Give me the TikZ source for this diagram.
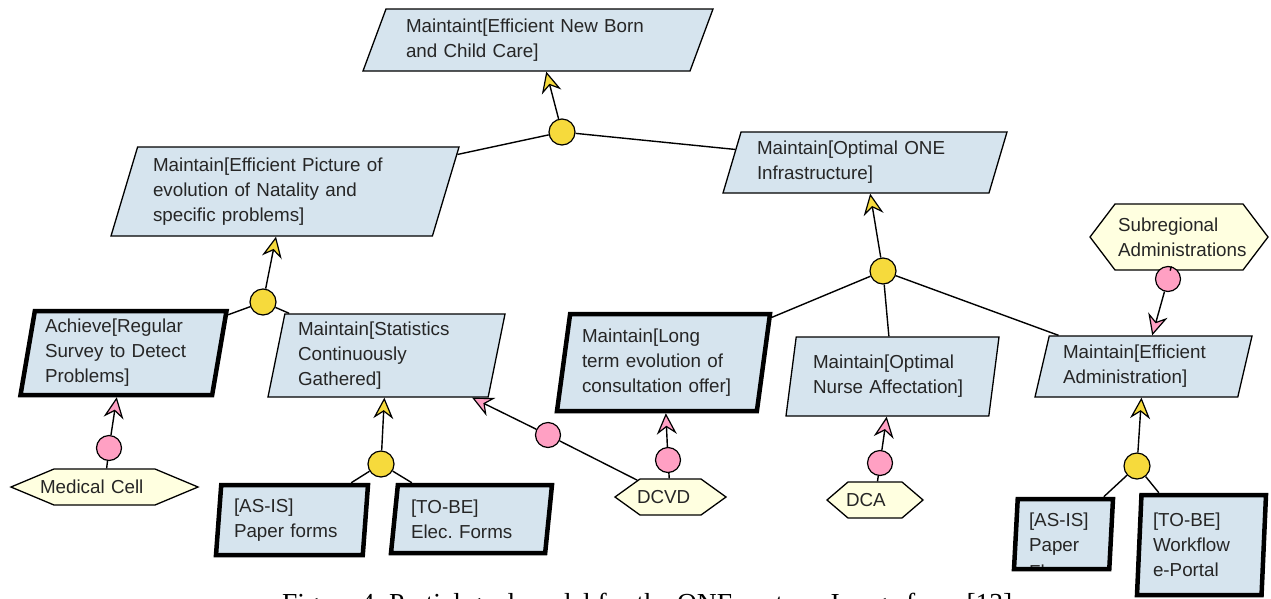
\documentclass[tikz,border=0pt]{standalone}
\usepackage{fontspec}
\newfontfamily\diafont{Liberation Sans}
\newfontfamily\capfont{Liberation Serif}
\usetikzlibrary{shapes.geometric,shapes.symbols,arrows.meta}
\definecolor{goalfill}{RGB}{214,228,238}
\definecolor{agentfill}{RGB}{255,255,224}
\definecolor{andyellow}{RGB}{246,218,60}
\definecolor{asspink}{RGB}{255,160,195}
\definecolor{txt}{RGB}{38,38,38}
\newcommand\gfont{\diafont\fontsize{18.8}{25}\selectfont}
\frenchspacing
\begin{document}
\begin{tikzpicture}[x=1pt,y=-1pt,
  goal/.style={shape=trapezium, trapezium stretches body, draw=black, line width=1.3pt,
    fill=goalfill, inner sep=0pt, align=left, font=\gfont, text=txt},
  heavy/.style={line width=4.5pt},
  agent/.style={shape=signal, signal to=west and east, draw=black, line width=1.3pt,
    fill=agentfill, inner sep=0pt, align=left, font=\gfont, text=txt},
  andc/.style={circle, draw=black, line width=1.2pt, fill=andyellow, minimum size=26pt, inner sep=0pt},
  assc/.style={circle, draw=black, line width=1.2pt, fill=asspink, minimum size=25pt, inner sep=0pt},
  link/.style={draw=black, line width=1.4pt},
  yref/.style={link, -{Stealth[length=21pt, width=20pt, inset=7pt, fill=andyellow, line width=1.2pt]}},
  pref/.style={link, -{Stealth[length=21pt, width=20pt, inset=7pt, fill=asspink, line width=1.2pt]}}]
\useasboundingbox (0,0) rectangle (1271,598);
\fill[white] (0,0) rectangle (1271,598);

% goals
\node[goal, trapezium left angle=61.6, trapezium right angle=118.4, minimum width=350pt, minimum height=62pt, text width=264pt] (g0) at (538,40) {Maintaint[Efficient New Born\\and Child Care]};
\node[goal, trapezium left angle=68.5, trapezium right angle=111.5, minimum width=348pt, minimum height=89pt, text width=264pt] (g1) at (285,191.5) {Maintain[Efficient Picture of\\evolution of Natality and\\specific problems]};
\node[goal, heavy, trapezium left angle=78, trapezium right angle=102, minimum width=206pt, minimum height=84pt, text width=157pt] (g2) at (123.5,353) {Achieve[Regular\\Survey to Detect\\Problems]};
\node[goal, trapezium left angle=76, trapezium right angle=104, minimum width=237pt, minimum height=83pt, text width=177pt] (g3) at (386.5,355.5) {Maintain[Statistics\\Continuously\\Gathered]};
\node[goal, heavy, trapezium left angle=83, trapezium right angle=97, minimum width=152pt, minimum height=70pt, text width=116pt] (g4) at (292,520) {[AS-IS]\\Paper forms};
\node[goal, heavy, trapezium left angle=80, trapezium right angle=100, minimum width=161pt, minimum height=68pt, text width=121pt] (g5) at (471.5,519) {[TO-BE]\\Elec. Forms};
\node[goal, heavy, trapezium left angle=79, trapezium right angle=101, minimum width=213pt, minimum height=97pt, text width=163pt] (g6) at (663.5,362.5) {Maintain[Long\\term evolution of\\consultation offer]};
\node[goal, trapezium left angle=76.5, trapezium right angle=103.5, minimum width=213pt, minimum height=79pt, text width=159pt] (g7) at (892.5,376.5) {Maintain[Optimal\\Nurse Affectation]};
\node[goal, trapezium left angle=67, trapezium right angle=113, minimum width=284pt, minimum height=61pt, text width=216pt] (g8) at (865,162.5) {Maintain[Optimal ONE\\Infrastructure]};
\node[goal, trapezium left angle=71.5, trapezium right angle=108.5, minimum width=217pt, minimum height=61pt, text width=161pt] (g9) at (1143.5,366.5) {Maintain[Efficient\\Administration]};
\node[goal, heavy, trapezium left angle=85, trapezium right angle=95, minimum width=99pt, minimum height=70pt, text width=69pt] (g10) at (1063.5,534) {[AS-IS]\\Paper};
\begin{scope}
  \clip (1010,540) rectangle (1120,566.5);
  \node[font=\gfont, text=txt, anchor=base west, inner sep=0pt] (g10x) at (1029,578.5) {Flows};
\end{scope}
\node[goal, heavy, trapezium left angle=86, trapezium right angle=94, minimum width=129pt, minimum height=100pt, text width=97pt] (g11) at (1201.5,545) {[TO-BE]\\Workflow\\e-Portal};

% agents
\node[agent, signal pointer angle=45.4, minimum height=36pt, text width=101pt] (h1) at (104.5,487) {\hspace*{-14pt}Medical Cell};
\node[agent, signal pointer angle=71.5, minimum height=36pt, text width=61pt] (h2) at (670.5,497) {\hspace*{-3pt}DCVD};
\node[agent, signal pointer angle=81.2, minimum height=36pt, text width=54pt] (h3) at (875,500) {\hspace*{-2pt}DCA};
\node[agent, signal pointer angle=105.7, minimum height=66pt, text width=128pt] (h4) at (1179,237) {\hspace*{3pt}\mbox{Subregional}\\\hspace*{3pt}\mbox{Administrations}};

% refinement and assignment circles
\node[andc] (a0) at (562,132) {};
\node[andc] (a1) at (263,302) {};
\node[andc] (a2) at (381,464) {};
\node[andc] (a3) at (883,271) {};
\node[andc] (a4) at (1137,466) {};
\node[assc] (p1) at (109,448) {};
\node[assc] (p2) at (548,435) {};
\node[assc] (p3) at (668,460) {};
\node[assc] (p4) at (880,463) {};
\node[assc] (p5) at (1168,279) {};

% connectors
\draw[yref] (a0) -- (g0);
\draw[link] (a0) -- (g1);
\draw[link] (a0) -- (g8);
\draw[yref] (a1) -- (g1);
\draw[link] (a1) -- (g2);
\draw[link] (a1) -- (g3);
\draw[yref] (a2) -- (g3);
\draw[link] (a2) -- (g4);
\draw[link] (a2) -- (g5);
\draw[yref] (a3) -- (g8);
\draw[link] (a3) -- (g6);
\draw[link] (a3) -- (g7);
\draw[link] (a3) -- (g9);
\draw[yref] (a4) -- (g9);
\draw[link] (a4) -- (g10);
\draw[link] (a4) -- (g11);
\draw[link] (h1) -- (p1);
\draw[pref] (p1) -- (g2);
\draw[link] (h2) -- (p2);
\draw[pref] (p2) -- (g3);
\draw[link] (h2) -- (p3);
\draw[pref] (p3) -- (g6);
\draw[link] (h3) -- (p4);
\draw[pref] (p4) -- (g7);
\draw[link] (h4) -- (p5);
\draw[pref] (p5) -- (g9);

% caption (cut by the lower edge)
\node[font=\capfont\fontsize{27.5}{30}\selectfont, anchor=base west, inner sep=0pt] (cap) at (282,612) {Figure 4: Partial goal model for the ONE system. Image from [13]};
\end{tikzpicture}
\end{document}
